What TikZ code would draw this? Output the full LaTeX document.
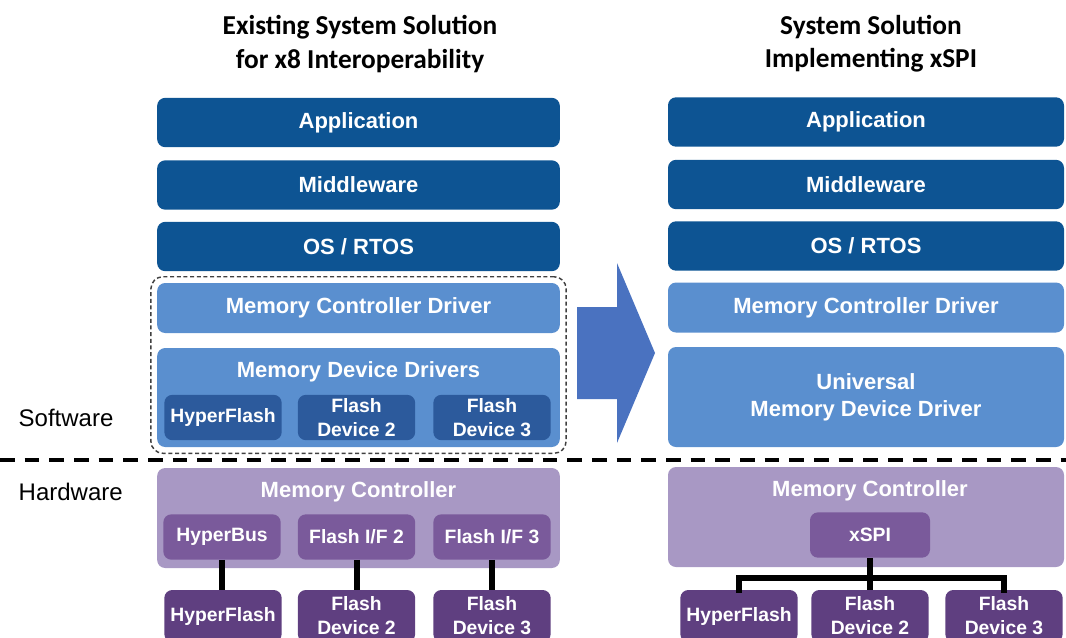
\documentclass[tikz,border=0pt]{standalone}
\usepackage{fontspec}
\setmainfont{Liberation Sans}
\newfontfamily\titlefont{Carlito}
\usepackage{xcolor}
\definecolor{deep-blue}{HTML}{0D5493}
\definecolor{sky-blue}{HTML}{5A8FCF}
\definecolor{navy-blue}{HTML}{2C5A9C}
\definecolor{arrow-blue}{HTML}{4A72C0}
\definecolor{lilac}{HTML}{A898C4}
\definecolor{plum}{HTML}{7A5A9B}
\definecolor{grape}{HTML}{5F3F80}
\usetikzlibrary{fit,positioning}
\tikzset{
    x=0.75pt,y=-0.75pt,
    layer/.style ={rounded corners=6pt, inner sep=0pt, text=white, align=center,
        font=\bfseries\fontsize{16.5}{20}\selectfont},
    stack/.style ={layer, fill=deep-blue, minimum width=302pt, minimum height=37pt},
    drv/.style ={layer, fill=sky-blue, minimum width=302pt},
    chip/.style ={layer, minimum width=88pt, minimum height=34pt,
        font=\bfseries\fontsize{14.5}{18}\selectfont},
    hdr/.style ={text=white, font=\bfseries\fontsize{16.5}{20}\selectfont},
    link/.style ={line width=4.5pt, black},
    title/.style ={align=center, font=\titlefont\bfseries\fontsize{20.5}{25}\selectfont},
    side/.style ={anchor=west, font=\fontsize{18}{22}\selectfont}
}
\begin{document}
\begin{tikzpicture}
      \useasboundingbox (0,0) rectangle (1066,637);
      \clip (0,0) rectangle (1066,637);

      \node[title] (ltitle) at (360, 44) {Existing System Solution\\for x8 Interoperability};
      \node[title] (rtitle) at (871, 44) {System Solution\\Implementing xSPI};

      \node[stack] (lapp) at (358.5, 122.5) {Application};
      \node[stack] (lmid) at (358.5, 185) {Middleware};
      \node[stack] (los) at (358.5, 246.5) {OS / RTOS};
      \node[drv, minimum height=37.5pt] (lmcd) at (358.5, 308) {Memory Controller Driver};
      \node[drv, minimum height=74.25pt] (lmdd) at (358.5, 397.5) {};
      \node[hdr] (lmddtxt) at (358.5, 372) {Memory Device Drivers};
      \node[chip, fill=navy-blue] (ldrv1) at (223, 417.5) {HyperFlash};
      \node[chip, fill=navy-blue] (ldrv2) at (356.5, 417.5) {Flash\\Device 2};
      \node[chip, fill=navy-blue] (ldrv3) at (492, 417.5) {Flash\\Device 3};
      \node[draw=black!75, dashed, line width=1.1pt, dash pattern=on 3pt off 2pt,
            rounded corners=9pt, inner sep=4.5pt, fit=(lmcd)(lmdd)] (sw) {};

      \node[stack, minimum width=297pt] (rapp) at (866, 122) {Application};
      \node[stack, minimum width=297pt] (rmid) at (866, 184.5) {Middleware};
      \node[stack, minimum width=297pt] (ros) at (866, 246) {OS / RTOS};
      \node[drv, minimum width=297pt, minimum height=37.5pt] (rmcd) at (866, 307.5) {Memory Controller Driver};
      \node[drv, minimum width=297pt, minimum height=75pt] (rmdd) at (866, 397) {Universal\\Memory Device Driver};

      \fill[arrow-blue] (577,307) -- (617,307) -- (617,263) -- (655,353) -- (617,443) -- (617,399) -- (577,399) -- cycle;

      \draw[line width=3pt, dash pattern=on 11pt off 7.5pt] (0,460) -- (1066,460);
      \node[side] (sw-label) at (14, 418) {Software};
      \node[side] (hw-label) at (14, 492) {Hardware};

      \node[layer, fill=lilac, minimum width=302pt, minimum height=75pt] (lmc) at (358.5, 518) {};
      \node[hdr] (lmctxt) at (358.5, 492) {Memory Controller};
      \node[chip, fill=plum] (lif1) at (222, 537) {HyperBus};
      \node[chip, fill=plum] (lif2) at (356.5, 537) {Flash I/F 2};
      \node[chip, fill=plum] (lif3) at (492, 537) {Flash I/F 3};

      \node[layer, fill=lilac, minimum width=297pt, minimum height=75pt] (rmc) at (866, 517) {};
      \node[hdr] (rmctxt) at (870, 491) {Memory Controller};
      \node[chip, fill=plum, minimum width=90pt] (xspi) at (870, 535) {xSPI};

      \node[chip, fill=grape, minimum height=39pt] (ldev1) at (223, 616) {HyperFlash};
      \node[chip, fill=grape, minimum height=39pt] (ldev2) at (356.5, 616) {Flash\\Device 2};
      \node[chip, fill=grape, minimum height=39pt] (ldev3) at (492, 616) {Flash\\Device 3};
      \node[chip, fill=grape, minimum height=39pt] (rdev1) at (739, 616) {HyperFlash};
      \node[chip, fill=grape, minimum height=39pt] (rdev2) at (870, 616) {Flash\\Device 2};
      \node[chip, fill=grape, minimum height=39pt] (rdev3) at (1004, 616) {Flash\\Device 3};

      \draw[link] (lif1) -- (ldev1.north -| lif1);
      \draw[link] (lif2) -- (ldev2);
      \draw[link] (lif3) -- (ldev3);

      \coordinate (bus) at (870, 578);
      \draw[link] (xspi.south) -- (bus);
      \draw[link, line cap=rect] (rdev1.north) |- (bus) -| (rdev3.north);
      \draw[link] (bus) -- (rdev2.north);
\end{tikzpicture}
\end{document}
